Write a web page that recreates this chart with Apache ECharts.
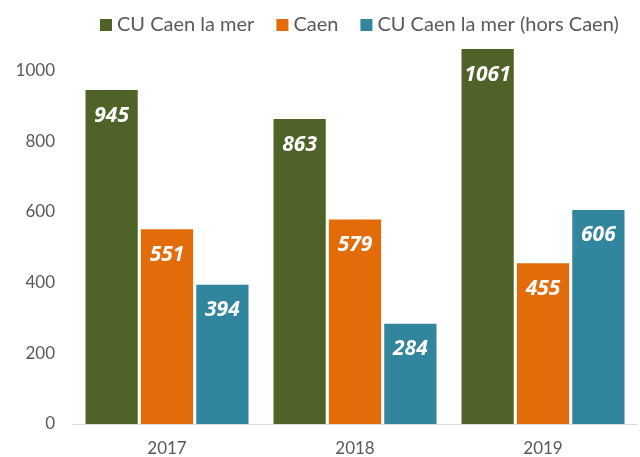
<!DOCTYPE html>
<html>
<head>
<meta charset="utf-8">
<script src="https://cdn.jsdelivr.net/npm/echarts@6/dist/echarts.min.js"></script>
<style>
  html, body { margin: 0; padding: 0; background: #fff; }
  #main { width: 640px; height: 457px; }
</style>
</head>
<body>
<div id="main"></div>
<script>
var years = ['2017', '2018', '2019'];
var cuCaen = [945, 863, 1061];
var caen = [551, 579, 455];
var horsCaen = [394, 284, 606];
var seriesNames = ['CU Caen la mer', 'Caen', 'CU Caen la mer (hors Caen)'];

var myChart = echarts.init(document.getElementById('main'));

var labelStyle = {
    show: true,
    position: 'insideTop',
    distance: 15,
    color: '#fff',
    fontSize: 21,
    fontWeight: 'bold',
    fontStyle: 'italic',
    fontFamily: 'Open Sans'
};

function makeSeries(name, data, color) {
    return {
        name: name,
        type: 'bar',
        data: data,
        barGap: '6%',
        barCategoryGap: '13.3%',
        itemStyle: { color: color },
        label: labelStyle
    };
}

var option = {
    animation: false,
    textStyle: { fontFamily: 'Lato' },
    legend: {
        top: 10,
        left: 95,
        itemWidth: 12,
        itemHeight: 12,
        itemGap: 22,
        icon: 'rect',
        textStyle: { color: '#595959', fontSize: 20, fontFamily: 'Lato' },
        data: seriesNames
    },
    grid: { left: 73, right: 3, top: 0, bottom: 33 },
    xAxis: {
        type: 'category',
        data: years,
        axisTick: { show: false },
        axisLine: { lineStyle: { color: '#d9d9d9' } },
        axisLabel: { color: '#595959', fontSize: 17, margin: 16 }
    },
    yAxis: {
        type: 'value',
        min: 0,
        max: 1200,
        interval: 200,
        splitLine: { show: false },
        axisLine: { show: false },
        axisLabel: {
            color: '#595959',
            fontSize: 17,
            margin: 18,
            showMaxLabel: false,
            formatter: function (v) { return String(v); }
        }
    },
    series: [
        makeSeries(seriesNames[0], cuCaen, '#4f6228'),
        makeSeries(seriesNames[1], caen, '#e36c0a'),
        makeSeries(seriesNames[2], horsCaen, '#31859c')
    ]
};

myChart.setOption(option);
</script>
</body>
</html>
